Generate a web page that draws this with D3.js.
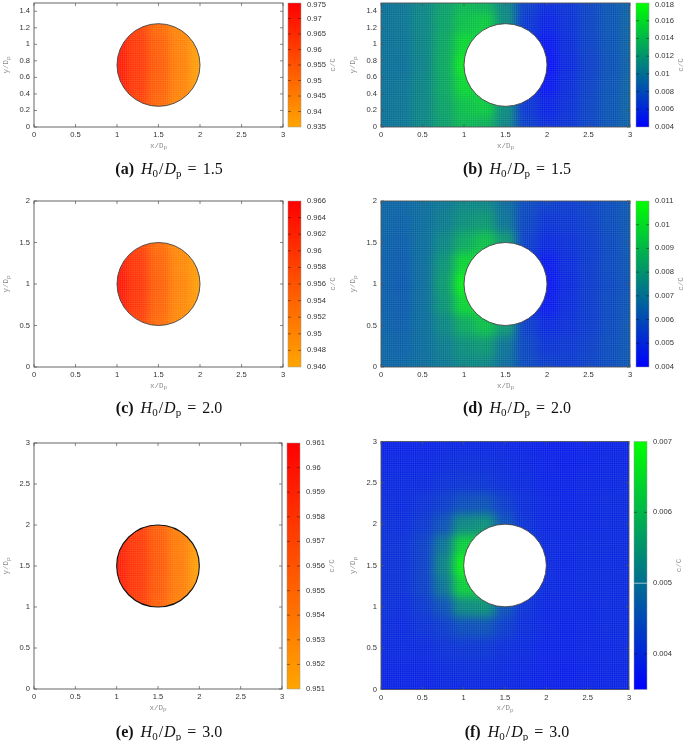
<!DOCTYPE html>
<html><head><meta charset="utf-8">
<script src="https://cdn.jsdelivr.net/npm/d3@7"></script>
<style>html,body{margin:0;background:#fff}svg{display:block;filter:blur(.3px)}</style></head>
<body><svg id="c" width="685" height="741"></svg>
<script>
// ---- values ----
const xTicks = [0,0.5,1,1.5,2,2.5,3];
const yTicksA = [0,0.2,0.4,0.6,0.8,1,1.2,1.4];
const yTicksC = [0,0.5,1,1.5,2];
const yTicksE = [0,0.5,1,1.5,2,2.5,3];
const cbTicksA = [0.935,0.94,0.945,0.95,0.955,0.96,0.965,0.97,0.975];
const cbTicksB = [0.004,0.006,0.008,0.01,0.012,0.014,0.016,0.018];
const cbTicksC = [0.946,0.948,0.95,0.952,0.954,0.956,0.958,0.96,0.962,0.964,0.966];
const cbTicksD = [0.004,0.005,0.006,0.007,0.008,0.009,0.01,0.011];
const cbTicksE = [0.951,0.952,0.953,0.954,0.955,0.956,0.957,0.958,0.959,0.96,0.961];
const cbTicksF = [0.004,0.005,0.006,0.007];
const ratios = ["1.5","1.5","2.0","2.0","3.0","3.0"];
const letters = ["a","b","c","d","e","f"];

// Fields: rows from the lowest y upward, one node every 0.25 in x and y
const fieldA = [ // x 0.75..2.25, y 0..1.5
 [.9700,.9670,.9595,.9500,.9430,.9370,.9360],
 [.9710,.9680,.9605,.9510,.9430,.9370,.9360],
 [.9725,.9695,.9620,.9530,.9445,.9370,.9360],
 [.9730,.9700,.9625,.9540,.9450,.9370,.9360],
 [.9725,.9695,.9620,.9530,.9445,.9370,.9360],
 [.9710,.9680,.9605,.9500,.9430,.9370,.9360],
 [.9700,.9670,.9595,.9490,.9430,.9370,.9360]];
const fieldC = [ // x 0.75..2.25, y 0.25..1.75
 [.9635,.9615,.9578,.9530,.9490,.9480,.9470],
 [.9645,.9625,.9588,.9535,.9495,.9480,.9470],
 [.9650,.9635,.9598,.9545,.9500,.9475,.9465],
 [.9655,.9641,.9603,.9550,.9505,.9472,.9465],
 [.9650,.9635,.9598,.9545,.9500,.9475,.9465],
 [.9645,.9625,.9588,.9535,.9495,.9480,.9470],
 [.9635,.9615,.9578,.9530,.9490,.9480,.9470]];
const fieldE = [ // x 0.75..2.25, y 0.75..2.25
 [.9594,.9587,.9573,.9552,.9532,.9520,.9515],
 [.9597,.9590,.9576,.9555,.9535,.9518,.9514],
 [.9600,.9594,.9579,.9558,.9537,.9516,.9513],
 [.9602,.9595,.9580,.9559,.9538,.9515,.9512],
 [.9600,.9594,.9579,.9558,.9537,.9516,.9513],
 [.9597,.9590,.9576,.9555,.9535,.9518,.9514],
 [.9594,.9587,.9573,.9552,.9532,.9520,.9515]];
const fieldB = [ // x 0..3, y 0..1.5, in thousandths
 [9.8,10.1,11.0,12.4,13.8,13.4,11.0,7.0,6.0,6.4,7.3,8.3,9.0],
 [9.9,10.1,11.0,12.6,14.4,15.0,11.3,6.6,5.5,6.2,7.3,8.3,9.1],
 [9.9,10.0,10.9,12.9,15.7,15.5,11.0,6.2,4.8,6.0,7.2,8.2,9.1],
 [9.9,9.8,10.8,13.0,16.7,15.0,11.0,6.0,4.5,5.8,7.0,8.0,9.0],
 [9.9,10.0,10.9,12.9,15.7,15.5,11.0,6.2,4.8,6.0,7.2,8.2,9.1],
 [9.9,10.1,11.0,12.6,14.4,15.0,11.3,6.6,5.5,6.2,7.3,8.3,9.1],
 [9.8,10.1,11.0,12.4,13.8,13.4,11.0,7.0,6.0,6.4,7.3,8.3,9.0]];
const fieldD = [ // x 0..3, y 0..2, in thousandths
 [6.6,6.6,6.8,7.1,7.5,7.5,6.8,5.8,5.5,5.4,5.6,5.9,6.2],
 [6.6,6.5,6.8,7.2,7.8,8.0,7.0,5.7,5.2,5.3,5.5,5.9,6.2],
 [6.5,6.4,6.8,7.5,8.5,9.2,8.0,5.5,4.9,5.1,5.4,5.8,6.2],
 [6.45,6.3,6.8,7.9,9.8,10.0,8.0,5.0,4.5,5.0,5.4,5.8,6.15],
 [6.45,6.25,6.8,8.1,10.6,9.0,7.0,5.5,4.35,4.9,5.4,5.75,6.1],
 [6.45,6.3,6.8,7.9,9.8,10.0,8.0,5.0,4.5,5.0,5.4,5.8,6.15],
 [6.5,6.4,6.8,7.5,8.5,9.2,8.0,5.5,4.9,5.1,5.4,5.8,6.2],
 [6.6,6.5,6.8,7.2,7.8,8.0,7.0,5.7,5.2,5.3,5.5,5.9,6.2],
 [6.6,6.6,6.8,7.1,7.5,7.5,6.8,5.8,5.5,5.4,5.6,5.9,6.2]];
const fieldF = [ // x 0..3, y 0..3, in thousandths
 [3.85,3.85,3.85,3.9,3.9,3.9,3.9,3.85,3.8,3.8,3.85,3.85,3.9],
 [3.9,3.9,3.9,3.95,4.0,4.0,3.95,3.9,3.85,3.8,3.85,3.9,3.9],
 [3.95,3.95,3.95,4.05,4.1,4.1,4.0,3.95,3.85,3.85,3.9,3.9,3.95],
 [4.0,3.95,4.05,4.2,4.45,4.5,4.2,4.0,3.9,3.85,3.9,3.95,3.95],
 [4.05,4.0,4.15,4.5,5.3,5.4,4.5,4.05,3.9,3.9,3.9,3.95,3.95],
 [4.05,4.05,4.25,5.0,6.3,6.2,5.0,4.2,3.95,3.9,3.95,3.95,3.95],
 [4.05,4.05,4.25,5.2,6.8,6.0,5.0,4.2,3.95,3.9,3.95,3.95,3.95],
 [4.05,4.05,4.25,5.0,6.3,6.2,5.0,4.2,3.95,3.9,3.95,3.95,3.95],
 [4.05,4.0,4.15,4.5,5.3,5.4,4.5,4.05,3.9,3.9,3.9,3.95,3.95],
 [4.0,3.95,4.05,4.2,4.45,4.5,4.2,4.0,3.9,3.85,3.9,3.95,3.95],
 [3.95,3.95,3.95,4.05,4.1,4.1,4.0,3.95,3.85,3.85,3.9,3.9,3.95],
 [3.9,3.9,3.9,3.95,4.0,4.0,3.95,3.9,3.85,3.8,3.85,3.9,3.9],
 [3.85,3.85,3.85,3.9,3.9,3.9,3.9,3.85,3.8,3.8,3.85,3.85,3.9]];

const warm = ["orange","red"], cool = ["blue","#00ff00"];
const panels = [
 {f:fieldA,k:1,x0:.75,y0:0,H:1.5,yT:yTicksA,cT:cbTicksA,dom:[.935,.975],col:warm,box:[34,283,3,127],cb:[288,301],inside:true},
 {f:fieldB,k:.001,x0:0,y0:0,H:1.5,yT:yTicksA,cT:cbTicksB,dom:[.004,.018],col:cool,box:[381,630,3,127],cb:[636,649]},
 {f:fieldC,k:1,x0:.75,y0:.25,H:2,yT:yTicksC,cT:cbTicksC,dom:[.946,.966],col:warm,box:[34,283,201,367],cb:[288,301],inside:true},
 {f:fieldD,k:.001,x0:0,y0:0,H:2,yT:yTicksC,cT:cbTicksD,dom:[.004,.011],col:cool,box:[381,630,201,367],cb:[636,649]},
 {f:fieldE,k:1,x0:.75,y0:.75,H:3,yT:yTicksE,cT:cbTicksE,dom:[.951,.961],col:warm,box:[34,282,443,689],cb:[287,300],inside:true,heavy:true},
 {f:fieldF,k:.001,x0:0,y0:0,H:3,yT:yTicksE,cT:cbTicksF,dom:[.0035,.007],col:cool,box:[381,629,441.5,689.5],cb:[634,647]}
];
const svg = d3.select("#c");
const defs = svg.append("defs");
defs.append("filter").attr("id","soft").attr("filterUnits","userSpaceOnUse")
  .attr("x",0).attr("y",0).attr("width",685).attr("height",741)
  .attr("color-interpolation-filters","sRGB")
  .append("feGaussianBlur").attr("stdDeviation",5);
const SANS = "'Liberation Sans',Arial,sans-serif", MONO="'Liberation Mono',monospace", SERIF="'Liberation Serif',serif";
const INK="#333", AX="#555", LAB="#8a8a8a";
const fmt = v => String(+v.toFixed(4));

function axisLabel(g,x,y,rot,a,b){
  const t=g.append("text").attr("transform",`translate(${x},${y})${rot?" rotate(-90)":""}`)
    .attr("text-anchor","middle").attr("dominant-baseline","middle")
    .attr("font-family",MONO).attr("font-size",7.5).attr("fill",LAB);
  t.append("tspan").text(a);
  if(b){ t.append("tspan").attr("font-size",6).attr("dy",1.8).text(b); }
}

panels.forEach((p,i)=>{
  const [l,r,t,b]=p.box, g=svg.append("g");
  const x=d3.scaleLinear().domain([0,3]).range([l,r]);
  const y=d3.scaleLinear().domain([0,p.H]).range([b,t]);
  const color=d3.scaleLinear().domain(p.dom).range(p.col).interpolate(d3.interpolateRgb);
  const cx=1.5, cy=p.H/2, rad=.5, step=.25, meshStep=.0225;
  const clipId="clip"+i;
  const clip=defs.append("clipPath").attr("id",clipId);
  if(p.inside) clip.append("ellipse").attr("cx",x(cx)).attr("cy",y(cy)).attr("rx",x(rad)-x(0)).attr("ry",y(0)-y(rad));
  else clip.append("rect").attr("x",l).attr("y",t).attr("width",r-l).attr("height",b-t);

  // field: one rect per grid node
  const nodes=[];
  p.f.forEach((row,ri)=>row.forEach((v,ci)=>nodes.push({v:v*p.k,ri,ci,nr:p.f.length,nc:row.length})));
  const fg=g.append("g").attr("clip-path",`url(#${clipId})`);
  const pad=30;
  fg.append("g").attr("filter","url(#soft)").selectAll("rect").data(nodes).join("rect")
    .attr("shape-rendering","crispEdges")
    .attr("x",d=>x(p.x0+(d.ci-.5)*step)-(d.ci===0?pad:0))
    .attr("width",d=>x(step)-x(0)+(d.ci===0||d.ci===d.nc-1?pad:0))
    .attr("y",d=>y(p.y0+(d.ri+.5)*step)-(d.ri===d.nr-1?pad:0))
    .attr("height",d=>y(0)-y(step)+(d.ri===0||d.ri===d.nr-1?pad:0))
    .attr("fill",d=>color(d.v));
  // fine light mesh of the computational grid
  const mesh=fg.append("g").attr("stroke","#fff").attr("stroke-width",.35).attr("stroke-opacity",.26);
  mesh.selectAll("line.v").data(d3.range(0,3.0001,meshStep)).join("line").attr("class","v")
    .attr("x1",d=>x(d)).attr("x2",d=>x(d)).attr("y1",t).attr("y2",b);
  mesh.selectAll("line.h").data(d3.range(0,p.H+.0001,meshStep)).join("line").attr("class","h")
    .attr("y1",d=>y(d)).attr("y2",d=>y(d)).attr("x1",l).attr("x2",r);

  // particle
  g.append("ellipse").attr("cx",x(cx)).attr("cy",y(cy)).attr("rx",x(rad)-x(0)).attr("ry",y(0)-y(rad))
    .attr("fill",p.inside?"none":"#fff").attr("stroke",p.heavy?"#111":"#444").attr("stroke-width",p.heavy?1.1:.9);

  // frame, axes
  g.append("rect").attr("x",l).attr("y",t).attr("width",r-l).attr("height",b-t)
    .attr("fill","none").attr("stroke",AX).attr("stroke-width",.9);
  const tk=g.append("g").attr("stroke",AX).attr("stroke-width",.7);
  xTicks.forEach(v=>{[[b,b-3],[t,t+3]].forEach(([a,c])=>tk.append("line").attr("x1",x(v)).attr("x2",x(v)).attr("y1",a).attr("y2",c));});
  p.yT.forEach(v=>{[[l,l+3],[r,r-3]].forEach(([a,c])=>tk.append("line").attr("y1",y(v)).attr("y2",y(v)).attr("x1",a).attr("x2",c));});
  const txt=(xx,yy,s,anchor)=>g.append("text").attr("x",xx).attr("y",Math.max(yy,4.6)).attr("text-anchor",anchor)
    .attr("dominant-baseline","middle").attr("font-family",SANS).attr("font-size",7.6).attr("fill",INK).text(s);
  xTicks.forEach(v=>txt(x(v),b+8.2,fmt(v),"middle"));
  p.yT.forEach(v=>txt(l-4,y(v),fmt(v),"end"));
  axisLabel(g,(l+r)/2,b+18.5,false,"x/D","p");
  axisLabel(g,l-28,(t+b)/2,true,"y/D","p");

  // colour bar
  const [c0,c1]=p.cb;
  const cy2=d3.scaleLinear().domain(p.dom).range([b,t]);
  const grad=defs.append("linearGradient").attr("id","cbg"+i).attr("x1",0).attr("x2",0).attr("y1",1).attr("y2",0);
  p.dom.forEach((v,j)=>grad.append("stop").attr("offset",j).attr("stop-color",color(v)));
  g.append("rect").attr("x",c0).attr("y",t).attr("width",c1-c0).attr("height",b-t)
    .attr("fill",`url(#cbg${i})`).attr("stroke","#999").attr("stroke-opacity",.7).attr("stroke-width",.7);
  const ct=g.append("g").attr("stroke","#000").attr("stroke-opacity",.55).attr("stroke-width",.7);
  p.cT.forEach(v=>{
    if(p.dom.includes(v)) return;
    if(i===5 && v===.005){
      g.append("line").attr("x1",c0).attr("x2",c1).attr("y1",cy2(v)).attr("y2",cy2(v)).attr("stroke","#c8dcdc").attr("stroke-width",.8);
      return;
    }
    [[c0,c0+3],[c1,c1-3]].forEach(([a,e])=>ct.append("line").attr("x1",a).attr("x2",e).attr("y1",cy2(v)).attr("y2",cy2(v)));
  });
  p.cT.forEach(v=>txt(c1+6,cy2(v),fmt(v),"start"));
  axisLabel(g,c1+31.5,(t+b)/2,true,"c/C");

  // caption
  const capY=(i<2?174:i<4?413:737), capX=i%2?517:169;
  const cap=g.append("text").attr("x",capX).attr("y",capY).attr("text-anchor","middle")
    .attr("font-family",SERIF).attr("font-size",16).attr("fill","#111");
  cap.append("tspan").attr("font-weight","bold").text(`(${letters[i]})`);
  cap.append("tspan").attr("dx",7).attr("font-style","italic").text("H");
  cap.append("tspan").attr("font-size",11).attr("dy",2.5).text("0");
  cap.append("tspan").attr("dy",-2.5).attr("dx",1).text("/");
  cap.append("tspan").attr("dx",1).attr("font-style","italic").text("D");
  cap.append("tspan").attr("font-size",11).attr("dy",2.5).text("p");
  cap.append("tspan").attr("dy",-2.5).attr("dx",6).text("=");
  cap.append("tspan").attr("dx",6).text(ratios[i]);
});
</script></body></html>
